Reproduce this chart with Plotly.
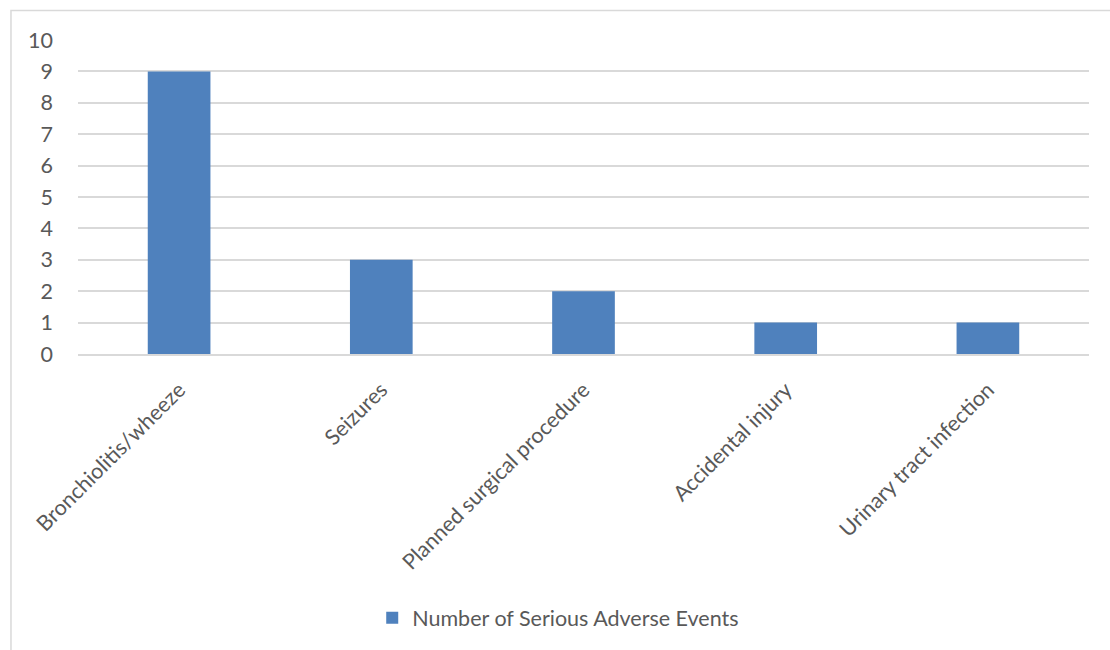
import plotly.graph_objects as go

categories = ["Bronchiolitis/wheeze", "Seizures", "Planned surgical procedure",
              "Accidental injury", "Urinary tract infection"]
events = [9, 3, 2, 1, 1]
series_name = "Number of Serious Adverse Events"
y_ticks = list(range(0, 11))

BAR_COLOR = "#4F81BD"
TEXT_COLOR = "#595959"
GRID_COLOR = "#D9D9D9"
FONT = "Lato"
FONT_SIZE = 21.5

fig = go.Figure()
fig.add_trace(go.Bar(
    x=categories,
    y=events,
    name=series_name,
    marker=dict(color=BAR_COLOR, line=dict(width=0)),
    showlegend=True,
))

fig.update_layout(
    width=1110,
    height=650,
    margin=dict(l=78, r=21, t=40, b=296),
    paper_bgcolor="white",
    plot_bgcolor="white",
    bargap=0.69,
    font=dict(family=FONT, size=FONT_SIZE, color=TEXT_COLOR),
    showlegend=True,
    legend=dict(
        orientation="h",
        x=0.475, xanchor="center",
        y=-0.84, yanchor="middle",
        font=dict(family=FONT, size=FONT_SIZE, color=TEXT_COLOR),
        itemwidth=30,
    ),
    xaxis=dict(
        tickangle=-45,
        showgrid=False,
        showline=True,
        linecolor=GRID_COLOR,
        linewidth=1.5,
        ticks="",
        ticklabelstandoff=13,
        tickfont=dict(family=FONT, size=FONT_SIZE, color=TEXT_COLOR),
    ),
    yaxis=dict(
        range=[0, 10],
        tickvals=y_ticks,
        showgrid=True,
        gridcolor=GRID_COLOR,
        gridwidth=1.5,
        zeroline=False,
        showline=False,
        ticks="",
        ticklabelstandoff=24,
        tickfont=dict(family=FONT, size=FONT_SIZE, color=TEXT_COLOR),
    ),
    shapes=[dict(
        type="rect", xref="paper", yref="paper",
        x0=-0.0663, x1=1.1, y0=-0.98, y1=1.094,
        line=dict(color=GRID_COLOR, width=1.5),
        fillcolor="rgba(0,0,0,0)",
        layer="below",
    )],
)

fig.write_html("out.html")
